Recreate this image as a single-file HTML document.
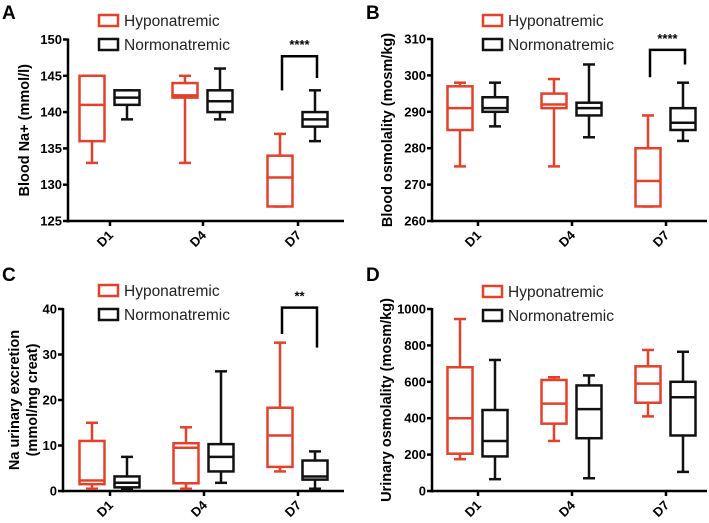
<!DOCTYPE html>
<html><head><meta charset="utf-8">
<style>
html,body{margin:0;padding:0;background:#fff;}
svg{display:block;font-family:"Liberation Sans",Arial,sans-serif;}
</style></head>
<body>
<svg id="fig" width="709" height="523" viewBox="0 0 709 523"></svg>
<script>
const categories = ["D1","D4","D7"];
const seriesNames = ["Hyponatremic","Normonatremic"];
// [min, q1, median, q3, max] per category
const aHypo = [[133,136,141,145,145],[133,142,142.3,144,145],[127,127,131,134,137]];
const aNormo = [[139,141,142,143,143],[139,140,141.5,143,146],[136,138,139,140,143]];
const bHypo = [[275,285,291,297,298],[275,291,292,295,299],[264,264,271,280,289]];
const bNormo = [[286,290,291,294,298],[283,289,291,292.5,303],[282,285,287,291,298]];
const cHypo = [[0.5,1.5,2.3,11,15],[0.5,1.7,9.5,10.5,14],[4.3,5.3,12.2,18.3,32.6]];
const cNormo = [[0.3,0.8,1.8,3.2,7.5],[1.8,4.3,7.5,10.3,26.3],[0.5,2.5,3.2,6.7,8.7]];
const dHypo = [[175,205,400,680,945],[275,370,480,610,625],[410,485,590,685,775]];
const dNormo = [[65,190,275,445,720],[70,290,450,580,635],[105,305,515,600,765]];
const aTicks = [125,130,135,140,145,150];
const bTicks = [260,270,280,290,300,310];
const cTicks = [0,10,20,30,40];
const dTicks = [0,200,400,600,800,1000];
// significance brackets: [leftEnd, top, rightEnd, label]
const aSig = [143,147.7,144.7,"****"];
const bSig = [299.5,307,303,"****"];
const cSig = [34.5,40.3,31.5,"**"];

const NS="http://www.w3.org/2000/svg";
const svg=document.getElementById('fig');
const RED="#e4402a", BLK="#111";
function el(tag,attrs,parent){const e=document.createElementNS(NS,tag);for(const k in attrs)e.setAttribute(k,attrs[k]);(parent||svg).appendChild(e);return e;}

function panel(cfg){
  const g=el('g',{});
  
  
  const y=v=>cfg.y0+(v-cfg.vmin)/(cfg.vmax-cfg.vmin)*(cfg.y1-cfg.y0);
  const x=i=>cfg.cx[i];
  const L=el('text',{x:cfg.lx,y:cfg.ly,'font-size':19,'font-weight':'bold',fill:'#000'},g);L.textContent=cfg.letter;
  
  
  const ya=el('line',{x1:cfg.ax,y1:cfg.y1-1,x2:cfg.ax,y2:cfg.y0+1.5,stroke:'#000','stroke-width':2.5},g);
  
  
  const xa=el('line',{x1:cfg.ax-1.2,y1:cfg.y0,x2:cfg.axEnd,y2:cfg.y0,stroke:'#000','stroke-width':2.5},g);
  
  
  cfg.ticks.forEach(t=>{
    el('line',{x1:cfg.ax-5,y1:y(t),x2:cfg.ax,y2:y(t),stroke:'#000','stroke-width':2.5},g);
    const tx=el('text',{x:cfg.ax-6,y:y(t)+4.5,'font-size':13,'font-weight':'bold','text-anchor':'end'},g);
    tx.textContent=t;
    
    
  });
  categories.forEach((c,i)=>{
    el('line',{x1:x(i),y1:cfg.y0,x2:x(i),y2:cfg.y0+5,stroke:'#000','stroke-width':2.5},g);
    const tx=el('text',{x:0,y:0,'font-size':13,'font-weight':'bold','text-anchor':'end',transform:`translate(${x(i)+4},${cfg.y0+15}) rotate(-45)`},g);
    tx.textContent=c;
    
    
  });
  const tt=el('text',{x:0,y:0,'font-size':14.5,'font-weight':'bold','text-anchor':'middle',transform:`translate(${cfg.tx},${(cfg.y0+cfg.y1)/2}) rotate(-90)`},g);
  
  
  if(cfg.title.length===1){tt.textContent=cfg.title[0];}
  else{cfg.title.forEach((s,k)=>{const ts=el('tspan',{x:0,dy:k===0?-8:18},tt);ts.textContent=s;});}
  [[cfg.hypo,RED,-18,'hypo'],[cfg.normo,BLK,17,'normo']].forEach(([data,col,off,nm])=>{
    data.forEach((d,i)=>{
      const bx=el('g',{stroke:col,'stroke-width':2.5,fill:'none'},g);
      
      
      const c=x(i)+off,w=25;
      el('line',{x1:c,y1:y(d[0]),x2:c,y2:y(d[1])},bx);
      el('line',{x1:c,y1:y(d[3]),x2:c,y2:y(d[4])},bx);
      el('line',{x1:c-6,y1:y(d[0]),x2:c+6,y2:y(d[0])},bx);
      el('line',{x1:c-6,y1:y(d[4]),x2:c+6,y2:y(d[4])},bx);
      el('rect',{x:c-w/2,y:y(d[3]),width:w,height:y(d[1])-y(d[3]),fill:'#fff'},bx);
      el('line',{x1:c-w/2,y1:y(d[2]),x2:c+w/2,y2:y(d[2])},bx);
    });
  });
  if(cfg.sig){
    const s=cfg.sig,l=x(2)-16,r=x(2)+19;
    const p=el('path',{d:`M${l},${y(s[0])}V${y(s[1])}H${r}V${y(s[2])}`,stroke:'#000','stroke-width':2.5,fill:'none'},g);
    
    
    const st=el('text',{x:(l+r)/2,y:y(s[1])-7,'font-size':13,'font-weight':'bold','text-anchor':'middle'},g);
    st.textContent=s[3];
    
    
  }
  seriesNames.forEach((n,k)=>{
    const lg=el('g',{},g);
    
    
    const yy=cfg.legY+k*24;
    el('rect',{x:cfg.legX,y:yy,width:19,height:11,fill:'none',stroke:k?BLK:RED,'stroke-width':2.5},lg);
    const t=el('text',{x:cfg.legX+25,y:yy+11,'font-size':15.5,fill:'#222'},lg);t.textContent=n;
  });
}

panel({letter:'A',lx:2,ly:19,ax:68,axEnd:344,y0:221,y1:39.5,vmin:125,vmax:150,cx:[110,203,298],ticks:aTicks,
  hypo:aHypo,normo:aNormo,sig:aSig,title:['Blood Na+ (mmol/l)'],tx:29,legX:99,legY:15});
panel({letter:'B',lx:366,ly:19,ax:432,axEnd:707,y0:221,y1:39,vmin:260,vmax:310,cx:[478,572,666],ticks:bTicks,
  hypo:bHypo,normo:bNormo,sig:bSig,title:['Blood osmolality (mosm/kg)'],tx:392,legX:483,legY:15});
panel({letter:'C',lx:2,ly:281,ax:63,axEnd:344,y0:491,y1:309,vmin:0,vmax:40,cx:[110,204,298],ticks:cTicks,
  hypo:cHypo,normo:cNormo,sig:cSig,title:['Na urinary excretion','(mmol/mg creat)'],tx:27,legX:99,legY:285});
panel({letter:'D',lx:366,ly:281,ax:432,axEnd:707,y0:491,y1:309,vmin:0,vmax:1000,cx:[478,572,666],ticks:dTicks,
  hypo:dHypo,normo:dNormo,sig:null,title:['Urinary osmolality (mosm/kg)'],tx:391,legX:483,legY:286});
</script>
</body></html>
